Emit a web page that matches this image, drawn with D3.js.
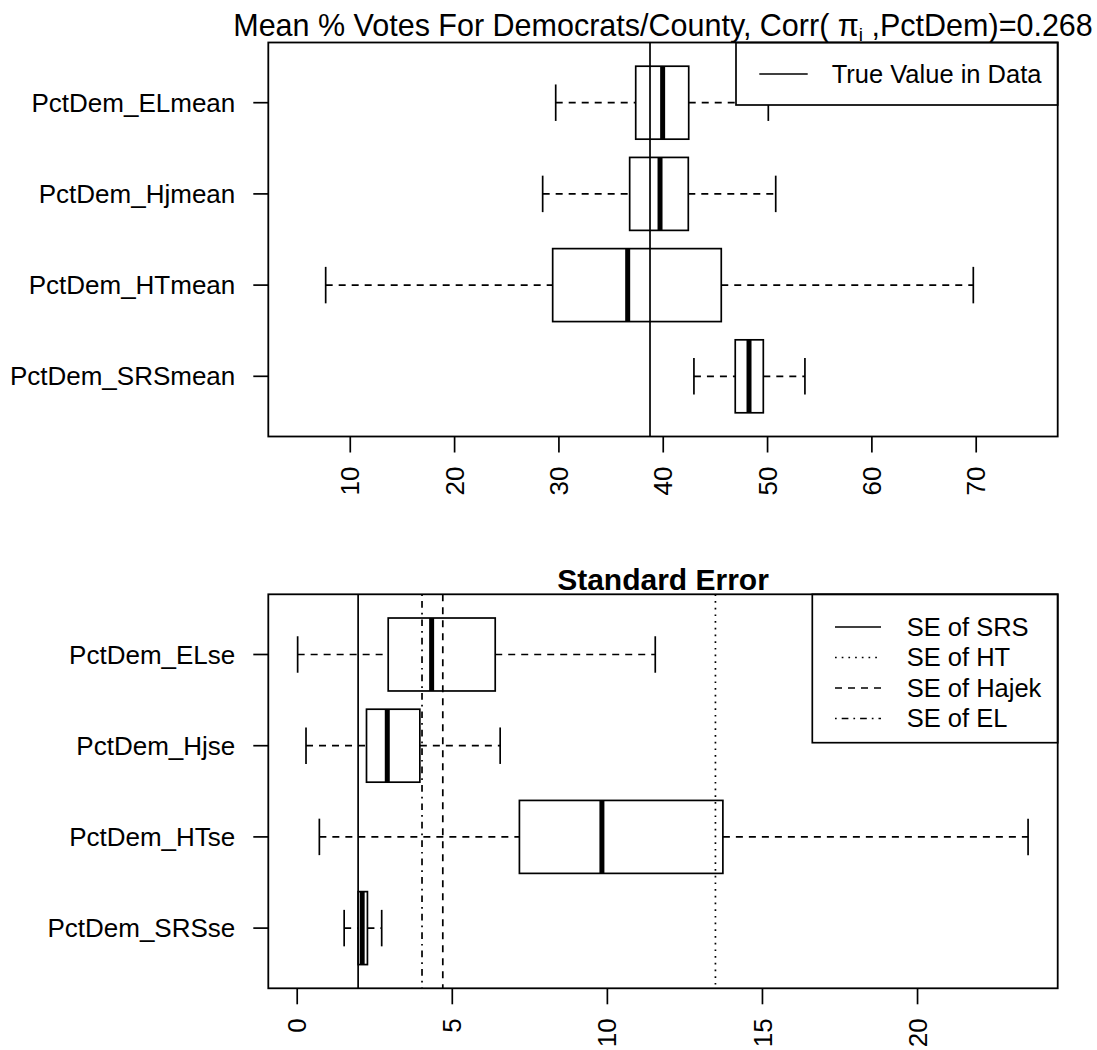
<!DOCTYPE html>
<html>
<head>
<meta charset="utf-8">
<script src="https://cdn.jsdelivr.net/npm/d3@7"></script>
<style>
  body { margin: 0; background: #fff; }
  svg text { font-family: "Liberation Sans", Arial, sans-serif; fill: #000; }
</style>
</head>
<body>
<div id="chart"></div>
<script>
// data, listed bottom row first (as R draws them)
const meanNames = ["PctDem_SRSmean", "PctDem_HTmean", "PctDem_Hjmean", "PctDem_ELmean"];
// [lower whisker, Q1, median, Q3, upper whisker]
const meanStats = [
  [42.99, 46.95, 48.27, 49.64, 53.63],
  [7.69, 29.45, 36.64, 45.61, 69.77],
  [28.49, 36.83, 39.74, 42.45, 50.83],
  [29.74, 37.41, 39.99, 42.49, 50.12]
];
const trueValue = 38.78;
const meanTicks = [10, 20, 30, 40, 50, 60, 70];

const seNames = ["PctDem_SRSse", "PctDem_HTse", "PctDem_Hjse", "PctDem_ELse"];
const seStats = [
  [1.53, 1.98, 2.11, 2.28, 2.74],
  [0.73, 7.18, 9.84, 13.74, 23.58],
  [0.30, 2.25, 2.92, 3.97, 6.56],
  [0.03, 2.95, 4.35, 6.40, 11.56]
];
const seTicks = [0, 5, 10, 15, 20];
const seLines = [
  { label: "SE of SRS", value: 1.98, dash: null },
  { label: "SE of HT", value: 13.5, dash: "1.7,5" },
  { label: "SE of Hajek", value: 4.71, dash: "7,6" },
  { label: "SE of EL", value: 4.04, dash: "1.7,5,6.7,5" }
];

const width = 1097;
const height = 1050;
const left = 268.3, right = 1057.7;
const labelSize = "26px";

const svg = d3.select("#chart")
  .append("svg")
  .attr("width", width)
  .attr("height", height);

// draws one horizontal boxplot panel and returns its scales
function boxPanel(opts) {
  const x = d3.scaleLinear().domain(opts.xDomain).range([left, right]);
  const y = d3.scaleLinear().domain([0.34, 4.66]).range([opts.bottom, opts.top]);
  const step = Math.abs(y(2) - y(1));
  const g = svg.append("g");

  // x axis
  const ax = g.append("g")
    .attr("transform", `translate(0,${opts.bottom})`)
    .call(d3.axisBottom(x).tickValues(opts.ticks).tickSize(16).tickFormat(d3.format("d")));
  ax.select(".domain").remove();
  ax.selectAll("line").attr("stroke", "#000").attr("stroke-width", 1.7);
  ax.selectAll("text")
    .attr("transform", "rotate(-90)")
    .attr("x", -30)
    .attr("y", 0)
    .attr("dy", "0.35em")
    .style("text-anchor", "end")
    .style("font-size", labelSize);

  // y axis with row names
  const rows = opts.names.map((n, i) => ({ name: n, pos: i + 1, s: opts.stats[i] }));
  g.selectAll(".ytick")
    .data(rows)
    .enter()
    .append("line")
    .attr("x1", left - 15)
    .attr("x2", left)
    .attr("y1", (d) => y(d.pos))
    .attr("y2", (d) => y(d.pos))
    .attr("stroke", "#000")
    .attr("stroke-width", 1.7);
  g.selectAll(".ylab")
    .data(rows)
    .enter()
    .append("text")
    .attr("x", left - 33)
    .attr("y", (d) => y(d.pos))
    .attr("dy", "0.35em")
    .attr("text-anchor", "end")
    .style("font-size", labelSize)
    .text((d) => d.name);

  // reference lines go under the boxes
  const refs = g.append("g");

  const box = g.selectAll(".box")
    .data(rows)
    .enter()
    .append("g");

  // whiskers
  box.append("line")
    .attr("x1", (d) => x(d.s[0])).attr("x2", (d) => x(d.s[1]))
    .attr("y1", (d) => y(d.pos)).attr("y2", (d) => y(d.pos))
    .attr("stroke", "#000").attr("stroke-width", 1.7).attr("stroke-dasharray", "7,6");
  box.append("line")
    .attr("x1", (d) => x(d.s[3])).attr("x2", (d) => x(d.s[4]))
    .attr("y1", (d) => y(d.pos)).attr("y2", (d) => y(d.pos))
    .attr("stroke", "#000").attr("stroke-width", 1.7).attr("stroke-dasharray", "7,6");
  // staples
  [0, 4].forEach((k) => {
    box.append("line")
      .attr("x1", (d) => x(d.s[k])).attr("x2", (d) => x(d.s[k]))
      .attr("y1", (d) => y(d.pos) - step * 0.2).attr("y2", (d) => y(d.pos) + step * 0.2)
      .attr("stroke", "#000").attr("stroke-width", 1.7);
  });
  // box
  box.append("rect")
    .attr("x", (d) => x(d.s[1]))
    .attr("width", (d) => x(d.s[3]) - x(d.s[1]))
    .attr("y", (d) => y(d.pos) - step * 0.4)
    .attr("height", step * 0.8)
    .attr("fill", "none")
    .attr("stroke", "#000")
    .attr("stroke-width", 1.7);
  // median
  box.append("line")
    .attr("x1", (d) => x(d.s[2])).attr("x2", (d) => x(d.s[2]))
    .attr("y1", (d) => y(d.pos) - step * 0.4).attr("y2", (d) => y(d.pos) + step * 0.4)
    .attr("stroke", "#000").attr("stroke-width", 5);

  return { x, y, g, refs };
}

function frame(p, top, bottom) {
  p.g.append("rect")
    .attr("x", left).attr("y", top)
    .attr("width", right - left).attr("height", bottom - top)
    .attr("fill", "none").attr("stroke", "#000").attr("stroke-width", 1.8);
}

// ---- top panel: means
const topY = 42.5, botY = 436.5;
const p1 = boxPanel({
  xDomain: [2.19, 77.86], top: topY, bottom: botY,
  ticks: meanTicks, names: meanNames, stats: meanStats
});
p1.refs.append("line")
  .attr("x1", p1.x(trueValue)).attr("x2", p1.x(trueValue))
  .attr("y1", topY).attr("y2", botY)
  .attr("stroke", "#000").attr("stroke-width", 1.7);

// legend
const lg1 = p1.g.append("g");
lg1.append("rect")
  .attr("x", 736).attr("y", topY)
  .attr("width", right - 736).attr("height", 105 - topY)
  .attr("fill", "#fff").attr("stroke", "#000").attr("stroke-width", 1.7);
lg1.append("line")
  .attr("x1", 759.3).attr("x2", 807.7).attr("y1", 74).attr("y2", 74)
  .attr("stroke", "#000").attr("stroke-width", 1.7);
lg1.append("text")
  .attr("x", 831.7).attr("y", 74).attr("dy", "0.35em")
  .style("font-size", "25.5px")
  .text("True Value in Data");
frame(p1, topY, botY);

const title1 = svg.append("text")
  .attr("x", (left + right) / 2)
  .attr("y", 36)
  .attr("text-anchor", "middle")
  .style("font-size", "30.5px");
title1.append("tspan").text("Mean % Votes For Democrats/County, Corr( ");
title1.append("tspan").text("\u03C0");
title1.append("tspan").attr("dy", 5).style("font-size", "19px").text("i");
title1.append("tspan").attr("dy", -5).text(" ,PctDem)=0.268");

// ---- bottom panel: standard errors
const topY2 = 594.3, botY2 = 988.3;
const p2 = boxPanel({
  xDomain: [-0.916, 24.535], top: topY2, bottom: botY2,
  ticks: seTicks, names: seNames, stats: seStats
});
p2.refs.selectAll("line")
  .data(seLines)
  .enter()
  .append("line")
  .attr("x1", (d) => p2.x(d.value)).attr("x2", (d) => p2.x(d.value))
  .attr("y1", topY2).attr("y2", botY2)
  .attr("stroke", "#000").attr("stroke-width", 1.7)
  .attr("stroke-dasharray", (d) => d.dash);

const lg2 = p2.g.append("g");
lg2.append("rect")
  .attr("x", 812.3).attr("y", topY2)
  .attr("width", right - 812.3).attr("height", 742.7 - topY2)
  .attr("fill", "#fff").attr("stroke", "#000").attr("stroke-width", 1.7);
const lgRow = lg2.selectAll(".row")
  .data(seLines)
  .enter()
  .append("g")
  .attr("transform", (d, i) => `translate(0,${627 + i * 30.5})`);
lgRow.append("line")
  .attr("x1", 835).attr("x2", 881)
  .attr("stroke", "#000").attr("stroke-width", 1.7)
  .attr("stroke-dasharray", (d) => d.dash);
lgRow.append("text")
  .attr("x", 906.7).attr("dy", "0.35em")
  .style("font-size", "25.5px")
  .text((d) => d.label);
frame(p2, topY2, botY2);

svg.append("text")
  .attr("x", (left + right) / 2)
  .attr("y", 590)
  .attr("text-anchor", "middle")
  .style("font-size", "30px")
  .style("font-weight", "bold")
  .text("Standard Error");
</script>
</body>
</html>
